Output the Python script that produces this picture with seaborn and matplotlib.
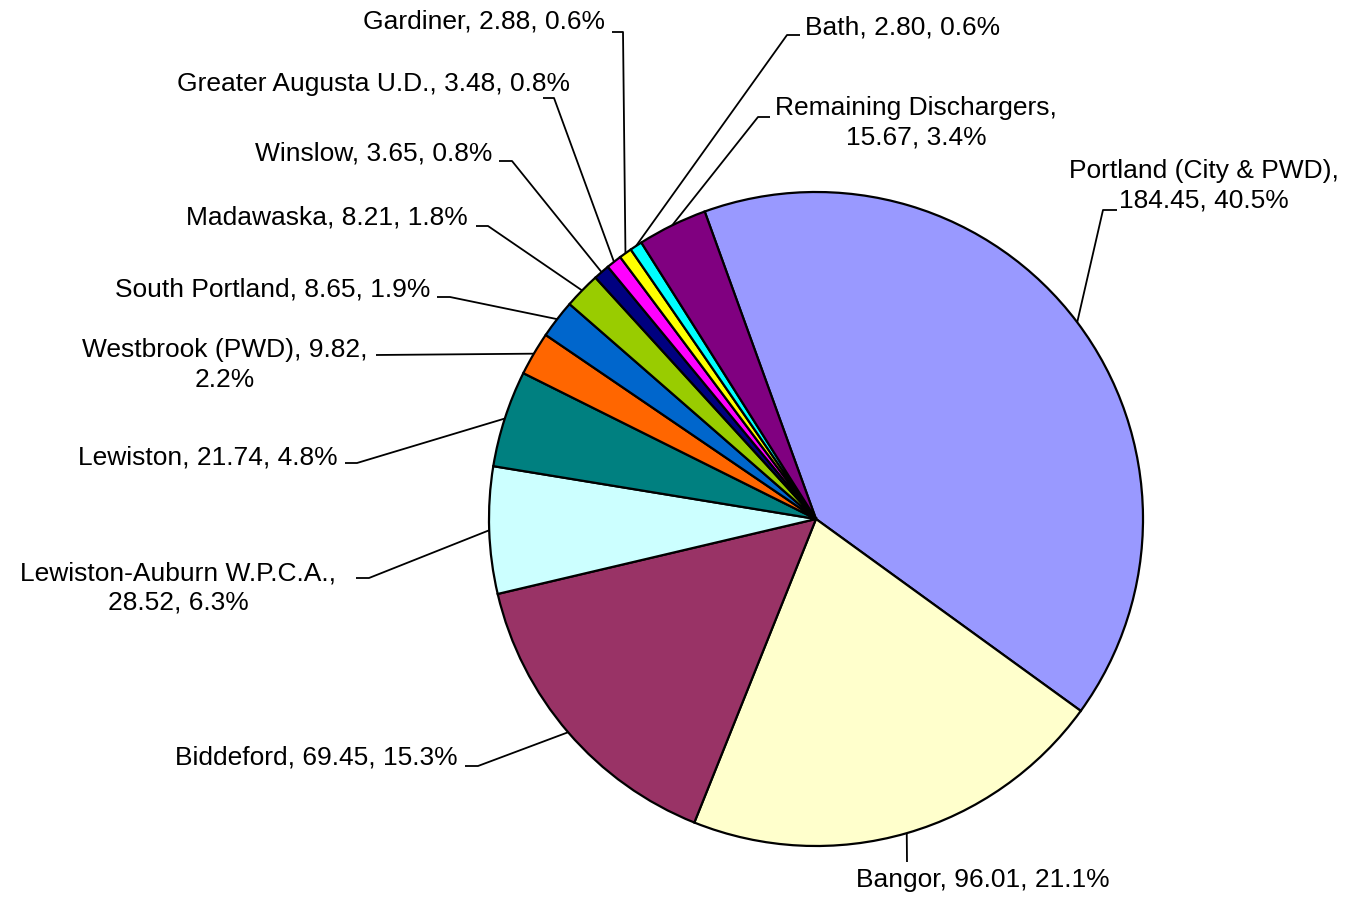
# maine_discharge_pie.py
import numpy as np
import matplotlib
matplotlib.use("Agg")
import matplotlib.pyplot as plt
import seaborn as sns

# Data
names = ['Portland (City & PWD)', 'Bangor', 'Biddeford', 'Lewiston-Auburn W.P.C.A.',
         'Lewiston', 'Westbrook (PWD)', 'South Portland', 'Madawaska', 'Winslow',
         'Greater Augusta U.D.', 'Gardiner', 'Bath', 'Remaining Dischargers']
values = [184.45, 96.01, 69.45, 28.52, 21.74, 9.82, 8.65, 8.21, 3.65, 3.48, 2.88, 2.80, 15.67]
colors = ['#9999FF', '#FFFFCC', '#993366', '#CCFFFF', '#008080', '#FF6600', '#0066CC',
          '#99CC00', '#000080', '#FF00FF', '#FFFF00', '#00FFFF', '#800080']

sns.set_theme(style="white")
plt.rcParams['font.family'] = ['Liberation Sans', 'DejaVu Sans']

W, H = 1346, 899
CX, CY, R = 816, 519, 327   # pie centre and radius in pixels

def px(x, y):
    return (x - CX) / R, (CY - y) / R

fig = plt.figure(figsize=(W / 100, H / 100), dpi=100)
ax = fig.add_axes([0, 0, 1, 1])

total = sum(values)
start = 90 + 19.9
wedges, _ = ax.pie(values, colors=colors, startangle=start, counterclock=False,
                   radius=1, wedgeprops=dict(edgecolor='black', linewidth=1.6))

# label layout: text position (px), alignment, leader elbow points (px)
layout = [
    ((1204, 186), 'center', [(1103, 210), (1117, 210)]),   # Portland
    ((983, 880), 'center', [(907, 862)]),                  # Bangor
    ((458, 757), 'right', [(478, 766), (465, 766)]),       # Biddeford
    ((178, 588), 'center', [(369, 578), (356, 578)]),      # Lewiston-Auburn
    ((338, 457), 'right', [(357, 463), (345, 463)]),       # Lewiston
    ((225, 365), 'center', [(376, 355)]),                  # Westbrook
    ((430, 290), 'right', [(450, 297), (437, 297)]),       # South Portland
    ((468, 217), 'right', [(488, 226), (476, 226)]),       # Madawaska
    ((492, 153), 'right', [(512, 161), (499, 161)]),       # Winslow
    ((570, 84), 'right', [(554, 98), (543, 98)]),          # Greater Augusta
    ((605, 22), 'right', [(623, 32), (612, 32)]),          # Gardiner
    ((805, 27), 'left', [(787, 35), (800, 35)]),           # Bath
    ((916, 123), 'center', [(758, 117), (770, 117)]),      # Remaining
]
wrap = {0: 'Portland (City & PWD),\n{v:.2f}, {p:.1f}%',
        3: 'Lewiston-Auburn W.P.C.A.,\n{v:.2f}, {p:.1f}%',
        5: 'Westbrook (PWD), {v:.2f},\n{p:.1f}%',
        12: 'Remaining Dischargers,\n{v:.2f}, {p:.1f}%'}

for i, (w, (tpos, ha, elbow)) in enumerate(zip(wedges, layout)):
    mid = np.deg2rad((w.theta1 + w.theta2) / 2)
    pts = [(np.cos(mid), np.sin(mid))] + [px(*e) for e in elbow]
    xs, ys = zip(*pts)
    ax.plot(xs, ys, color='black', lw=1.3, solid_capstyle='butt')
    fmt = wrap.get(i, names[i] + ', {v:.2f}, {p:.1f}%')
    label = fmt.format(v=values[i], p=values[i] / total * 100)
    ax.text(*px(*tpos), label, ha=ha, va='center', multialignment='center',
            fontsize=19, linespacing=1.3, color='black')

x0, y0 = px(0, H)
x1, y1 = px(W, 0)
ax.set_xlim(x0, x1)
ax.set_ylim(y0, y1)
ax.set_aspect('equal')
ax.axis('off')

plt.savefig('out.png', dpi=100, facecolor='white')
